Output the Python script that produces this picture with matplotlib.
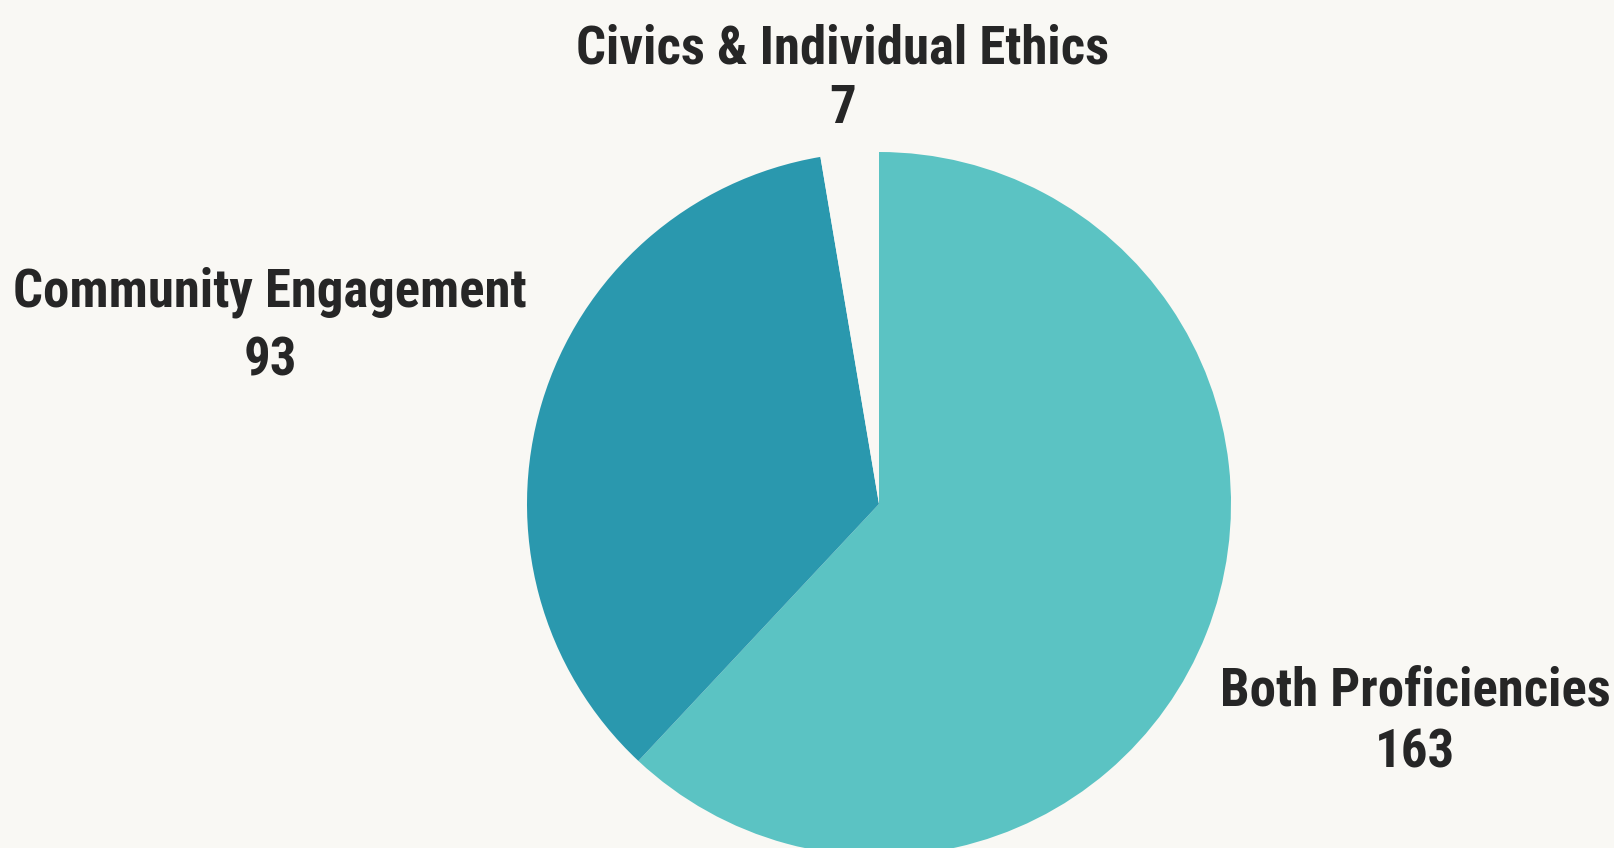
import matplotlib.pyplot as plt

# -----------------------------
# Data
# -----------------------------
categories = ["Both Proficiencies", "Community Engagement", "Civics & Individual Ethics"]
counts = [163, 93, 7]
colors = ["#5bc3c3", "#2a98ae", "#f9f8f4"]

BG = "#f9f8f4"
TEXT = "#262626"

# label placement: x center, name baseline, count baseline (pixels, y from top)
label_pos = [(1415, 705, 767), (270, 306, 376), (843, 63, 123)]

W, H = 1614, 848
fig = plt.figure(figsize=(W / 100, H / 100), dpi=100, facecolor=BG)
ax = fig.add_axes([0, 0, 1, 1])
ax.set_facecolor(BG)

# -----------------------------
# Pie, clockwise from the top
# -----------------------------
ax.pie(counts, colors=colors, startangle=90, counterclock=False,
       center=(879, H - 504), radius=352,
       wedgeprops=dict(linewidth=0, antialiased=True))
ax.set_xlim(0, W)
ax.set_ylim(0, H)
ax.set_aspect("equal")
ax.axis("off")

font = dict(family=["Roboto Condensed", "DejaVu Sans"], fontweight="bold",
            color=TEXT, fontsize=38, ha="center", va="baseline")
for name, n, (x, y1, y2) in zip(categories, counts, label_pos):
    ax.text(x, H - y1, name, **font)
    ax.text(x, H - y2, str(n), **font)

fig.savefig("out.png", dpi=100, facecolor=BG)
